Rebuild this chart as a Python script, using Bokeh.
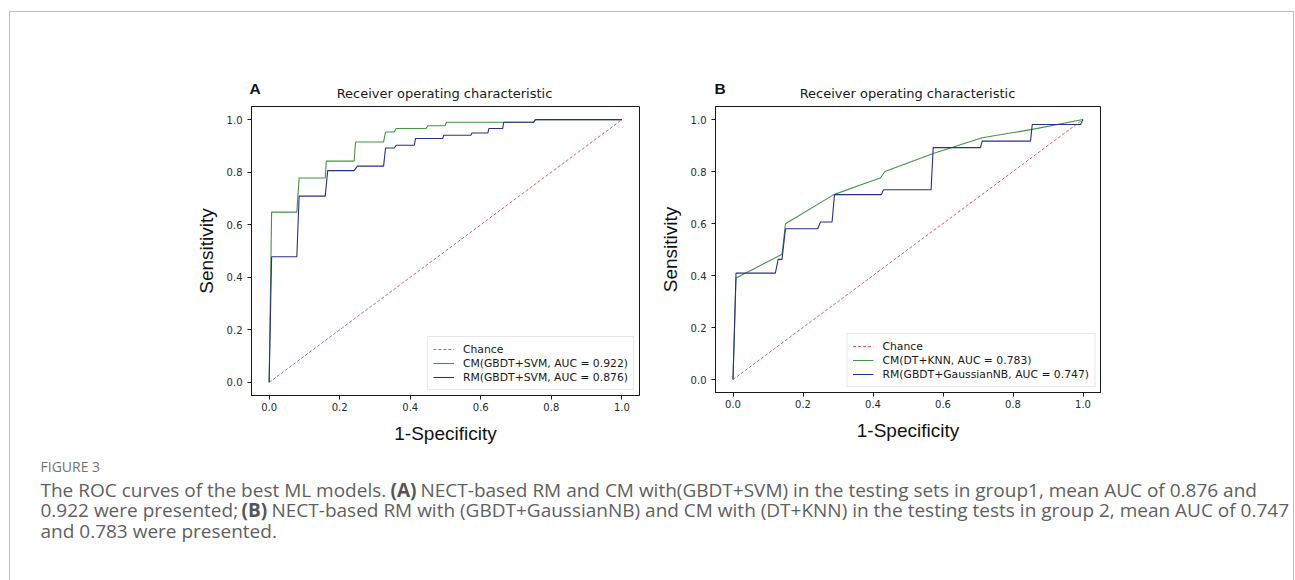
from bokeh.plotting import figure
from bokeh.models import Legend, LegendItem, FixedTicker, PrintfTickFormatter, Range1d
from bokeh.layouts import row, column
from bokeh.embed import file_html
from bokeh.resources import INLINE
from bokeh.core.properties import value

# ---------------- data ----------------
chance_x = [0.0, 1.0]
chance_y = [0.0, 1.0]

# Panel A (group 1)
a_cm_fpr = [0, 0.007, 0.0785, 0.085, 0.159, 0.162, 0.241, 0.245, 0.3245, 0.33, 0.355, 0.36,
            0.445, 0.45, 0.4986, 0.503, 0.75, 0.755, 1.0]
a_cm_tpr = [0, 0.648, 0.648, 0.778, 0.778, 0.842, 0.842, 0.915, 0.915, 0.953, 0.953, 0.966,
            0.966, 0.977, 0.977, 0.99, 0.99, 1.0, 1.0]
a_rm_fpr = [0, 0.007, 0.0785, 0.085, 0.159, 0.166, 0.241, 0.25, 0.3245, 0.33, 0.355, 0.36,
            0.4115, 0.415, 0.492, 0.495, 0.572, 0.575, 0.62, 0.623, 0.662, 0.665, 0.75, 0.755, 1.0]
a_rm_tpr = [0, 0.478, 0.478, 0.709, 0.709, 0.806, 0.806, 0.823, 0.823, 0.892, 0.892, 0.9025,
            0.9025, 0.928, 0.928, 0.9405, 0.9405, 0.949, 0.949, 0.966, 0.966, 0.99, 0.99, 1.0, 1.0]

# Panel B (group 2)
b_cm_fpr = [0, 0.0086, 0.14, 0.15, 0.288, 0.374, 0.421, 0.434, 0.574, 0.712, 0.855, 1.0]
b_cm_tpr = [0, 0.39, 0.4815, 0.599, 0.711, 0.753, 0.775, 0.80, 0.870, 0.93, 0.962, 1.0]
b_rm_fpr = [0, 0.0086, 0.121, 0.129, 0.14, 0.15, 0.242, 0.25, 0.283, 0.29, 0.424, 0.43,
            0.566, 0.572, 0.707, 0.712, 0.85, 0.855, 0.993, 1.0]
b_rm_tpr = [0, 0.409, 0.409, 0.462, 0.462, 0.58, 0.58, 0.606, 0.606, 0.711, 0.711, 0.73,
            0.73, 0.892, 0.892, 0.917, 0.917, 0.981, 0.981, 1.0]

a_labels = ["Chance", "CM(GBDT+SVM, AUC = 0.922)", "RM(GBDT+SVM, AUC = 0.876)"]
b_labels = ["Chance", "CM(DT+KNN, AUC = 0.783)", "RM(GBDT+GaussianNB, AUC = 0.747)"]
tick_values = [0.0, 0.2, 0.4, 0.6, 0.8, 1.0]

panel_letters = ["A", "B"]
title_text = "Receiver operating characteristic"
x_title = "1-Specificity"
y_title = "Sensitivity"

fig_label = "FIGURE 3"
caption_lines = [
    ["The ROC curves of the best ML models.", "(A)",
     "NECT-based RM and CM with(GBDT+SVM) in the testing sets in group1, mean AUC of 0.876 and"],
    ["0.922 were presented;", "(B)",
     "NECT-based RM with (GBDT+GaussianNB) and CM with (DT+KNN) in the testing tests in group 2, mean AUC of 0.747"],
    ["and 0.783 were presented."],
]

# ---------------- styles / layout ----------------
GREEN = "#449444"
BLUE = "#2a2f8c"
RED = "#e0566e"
TICK_FONT = "DejaVu Sans"
CONTENT_W = 1283
HEAD_H = 92
ROW_H = 351
CAP_H = 125
TOP_PAD = 2


def make_panel(cm_x, cm_y, rm_x, rm_y, labels, bl, fw, br, fh):
    p = figure(frame_width=fw, frame_height=fh,
               min_border_left=bl, min_border_right=br,
               min_border_top=TOP_PAD, min_border_bottom=ROW_H - TOP_PAD - fh,
               x_range=Range1d(-0.05, 1.05), y_range=Range1d(-0.05, 1.05),
               output_backend="svg", toolbar_location=None)
    p.grid.visible = False
    p.outline_line_color = "#1a1a1a"
    p.outline_line_width = 1
    p.background_fill_color = "white"
    p.border_fill_color = "white"

    r0 = p.line(chance_x, chance_y, line_color=RED, line_dash="3 2", line_width=1)
    r1 = p.line(cm_x, cm_y, line_color=GREEN, line_width=1.1)
    r2 = p.line(rm_x, rm_y, line_color=BLUE, line_width=1.1)

    for ax in (p.xaxis[0], p.yaxis[0]):
        ax.ticker = FixedTicker(ticks=tick_values)
        ax.formatter = PrintfTickFormatter(format="%.1f")
        ax.minor_tick_line_color = None
        ax.major_tick_in = 0
        ax.major_tick_out = 4
        ax.major_tick_line_color = "#1a1a1a"
        ax.axis_line_color = "#1a1a1a"
        ax.major_label_text_font = TICK_FONT
        ax.major_label_text_font_size = "10px"
        ax.major_label_text_color = "#2b2b2b"
        ax.axis_label_text_font = "Liberation Sans"
        ax.axis_label_text_font_size = "19px"
        ax.axis_label_text_font_style = "normal"
        ax.axis_label_text_color = "#111111"
    p.xaxis.axis_label = x_title
    p.yaxis.axis_label = y_title
    p.xaxis.major_label_standoff = 3
    p.yaxis.major_label_standoff = 5
    p.xaxis.axis_label_standoff = 9
    p.yaxis.axis_label_standoff = 7

    legend = Legend(items=[LegendItem(label=labels[0], renderers=[r0]),
                           LegendItem(label=labels[1], renderers=[r1]),
                           LegendItem(label=labels[2], renderers=[r2])],
                    location="bottom_right", margin=5, padding=5, spacing=0,
                    label_text_font=TICK_FONT, label_text_font_size="10.8px",
                    label_text_color="#1a1a1a", label_height=14, glyph_height=14,
                    glyph_width=21, label_standoff=9,
                    border_line_color="#d0d0d0", border_line_width=1,
                    background_fill_color="white", background_fill_alpha=0.85)
    p.add_layout(legend)
    return p


pa = make_panel(a_cm_fpr, a_cm_tpr, a_rm_fpr, a_rm_tpr, a_labels,
                bl=241, fw=388, br=11, fh=289)
pb = make_panel(b_cm_fpr, b_cm_tpr, b_rm_fpr, b_rm_tpr, b_labels,
                bl=65, fw=385, br=CONTENT_W - 640 - 65 - 385, fh=286)

# ---------------- header (panel letters + titles) ----------------
ph = figure(width=CONTENT_W, height=HEAD_H, x_range=Range1d(0, CONTENT_W),
            y_range=Range1d(HEAD_H, 0), x_axis_location=None, y_axis_location=None,
            min_border=0, output_backend="svg", toolbar_location=None)
ph.grid.visible = False
ph.outline_line_color = None
ph.text(x=[239, 704], y=[75.5, 75.5], text=panel_letters, text_font=value("Liberation Sans"),
        text_font_size=value("15.5px"), text_font_style="bold", text_color="#111111",
        text_baseline="alphabetic", text_align="left")
ph.text(x=[434, 897], y=[80.5, 80.5], text=[title_text, title_text], text_font=value(TICK_FONT),
        text_font_size=value("13px"), text_color="#1a1a1a",
        text_baseline="alphabetic", text_align="center")

# ---------------- caption ----------------
pc = figure(width=CONTENT_W, height=CAP_H, x_range=Range1d(0, CONTENT_W),
            y_range=Range1d(CAP_H, 0), x_axis_location=None, y_axis_location=None,
            min_border=0, output_backend="svg", toolbar_location=None)
pc.grid.visible = False
pc.outline_line_color = None

CAP_FONT = "Open Sans"
CAP_COLOR = "#5f5f5f"
pc.text(x=[30], y=[11], text=[fig_label], text_font=value(CAP_FONT),
        text_font_size=value("14px"), text_color="#737373", text_baseline="alphabetic")

seg_x = [[30, 380, 410], [30, 231, 261], [30]]
base_y = [34, 54.5, 75]
for li, segs in enumerate(caption_lines):
    for si, s in enumerate(segs):
        bold = s.startswith("(") and len(s) == 3
        pc.text(x=[seg_x[li][si]], y=[base_y[li]], text=[s], text_font=value(CAP_FONT),
                text_font_size=value("19px"), text_color="#555555" if bold else CAP_COLOR,
                text_font_style="bold" if bold else "normal",
                text_baseline="alphabetic", text_align="left")

layout = column(ph, row(pa, pb), pc,
                styles={"border-left": "1px solid #bdbdbd", "border-top": "1px solid #bdbdbd",
                        "border-right": "1px solid #bdbdbd"},
                margin=(11, 0, 0, 9))

open("out.html", "w").write(file_html(layout, INLINE))
